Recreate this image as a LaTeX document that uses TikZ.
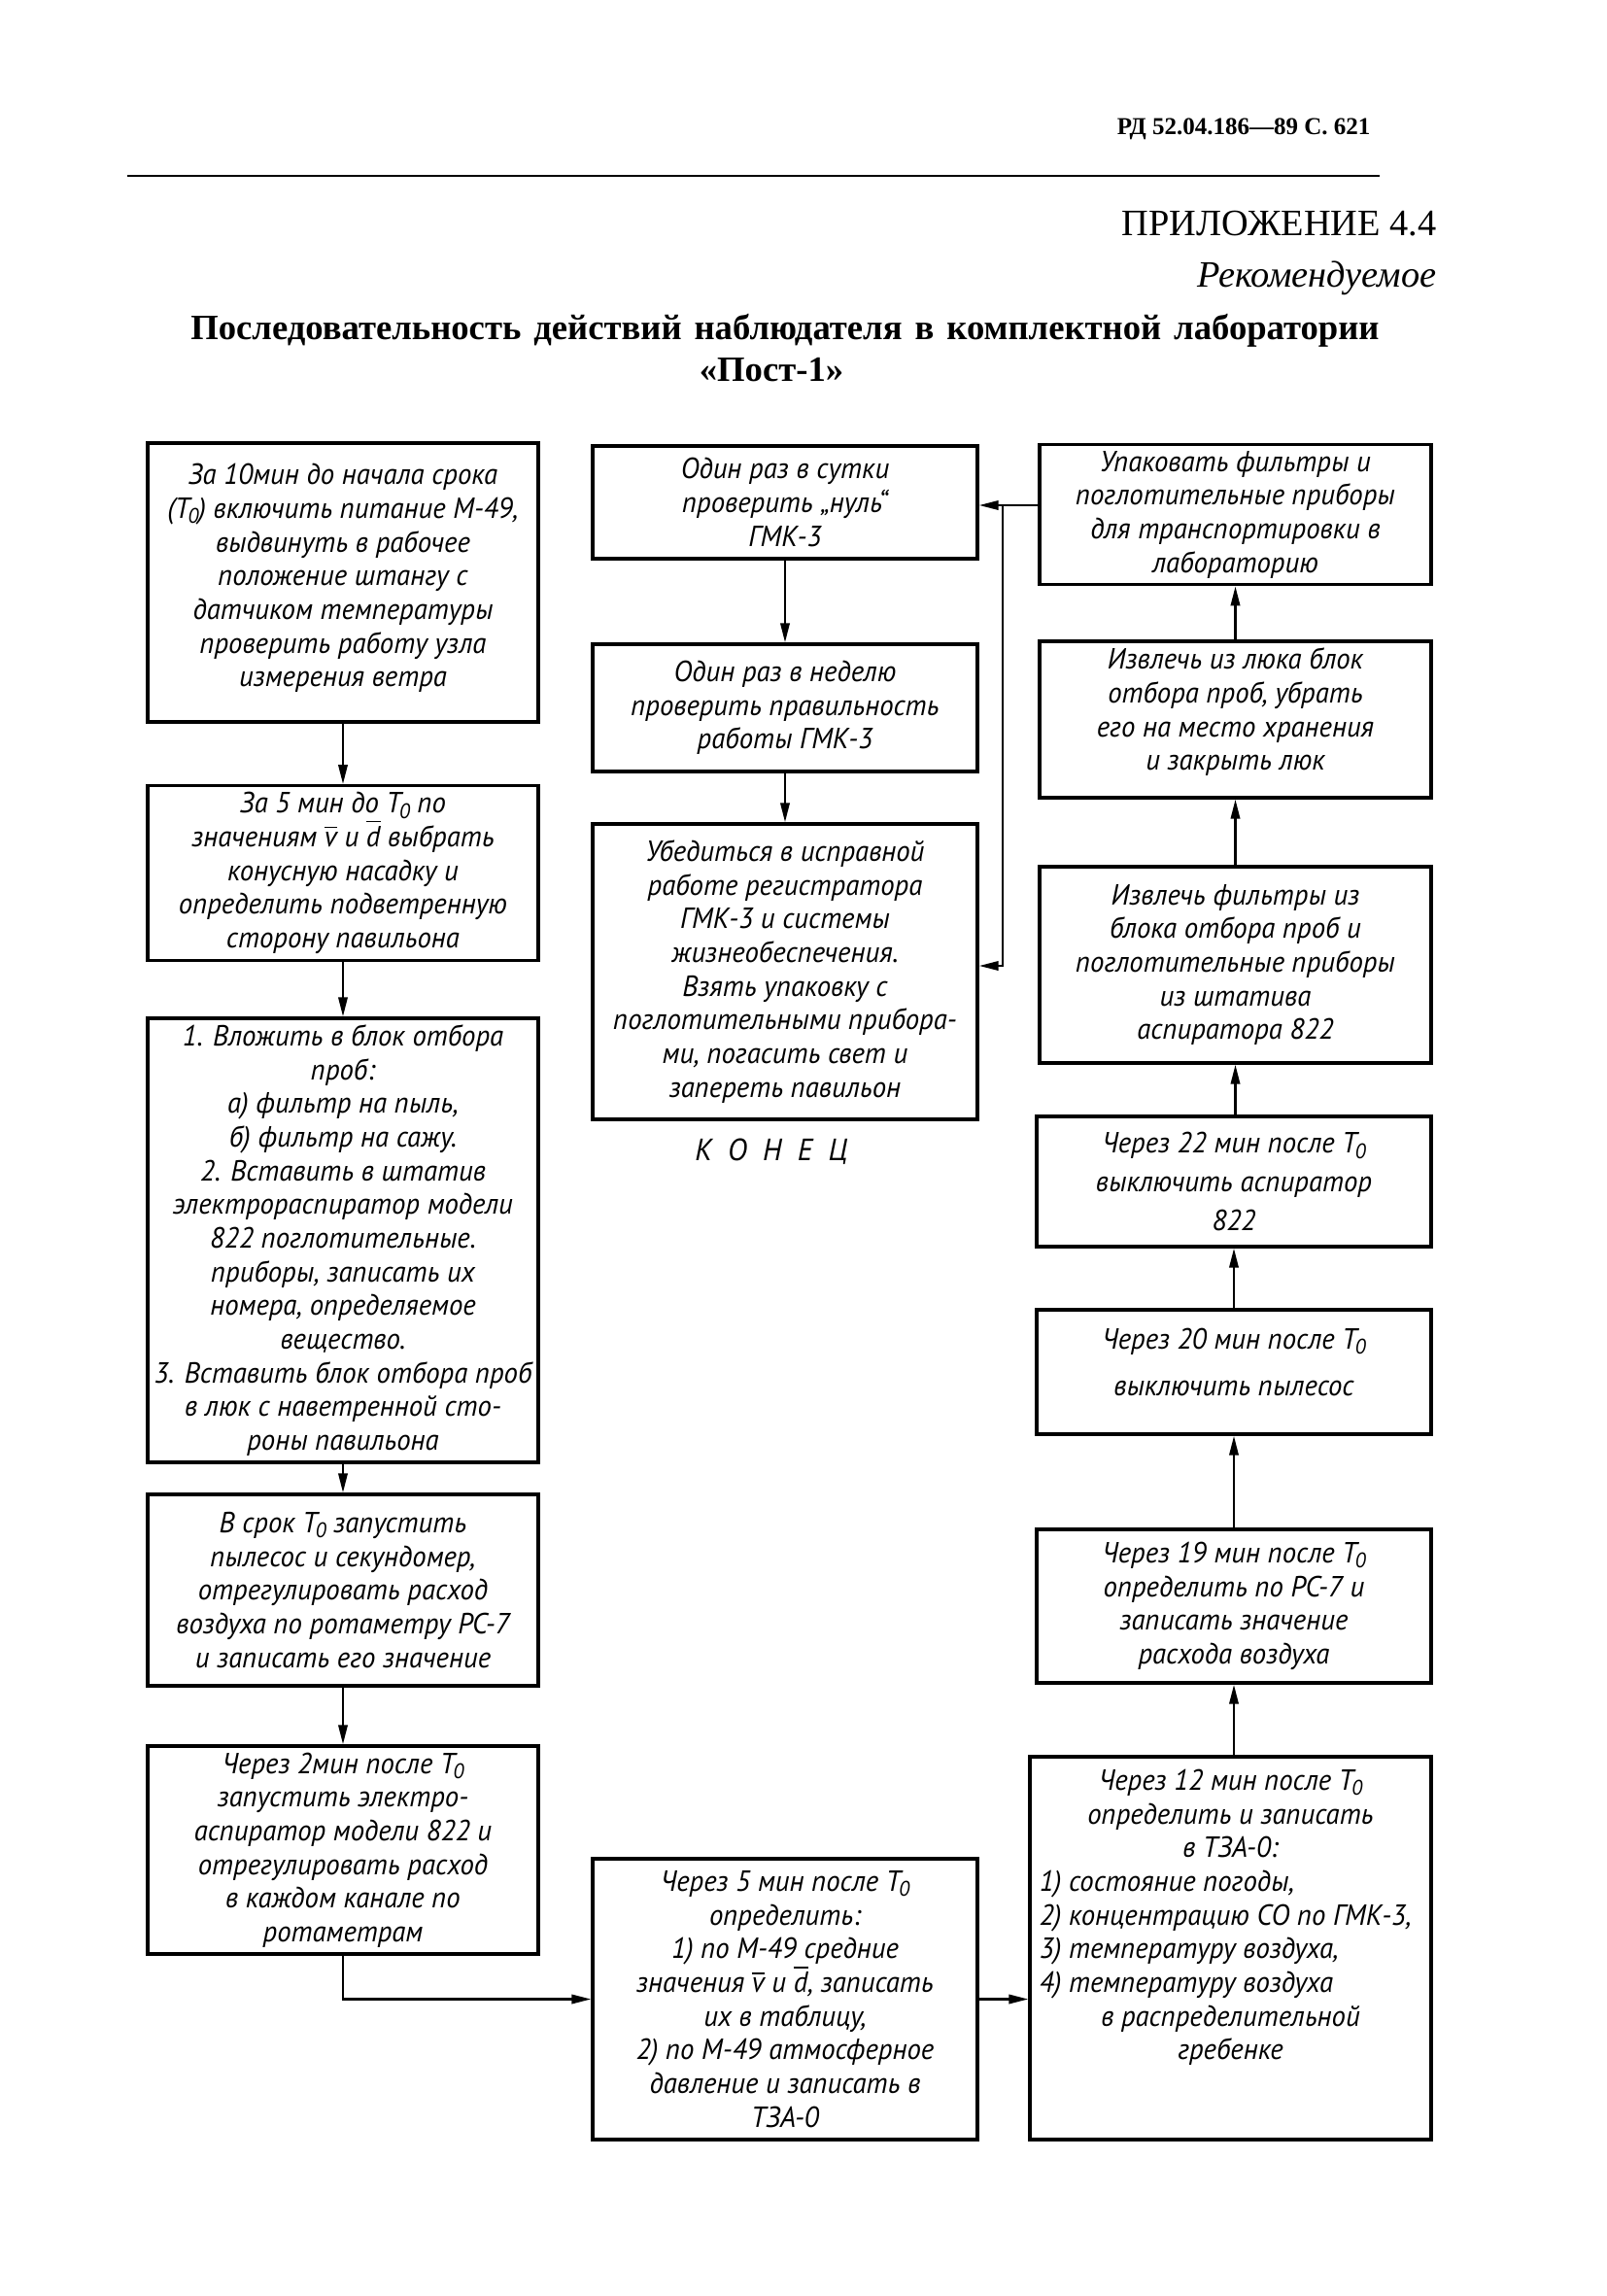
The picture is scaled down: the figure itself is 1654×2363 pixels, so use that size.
\documentclass[tikz,border=0pt]{standalone}
\usepackage{fontspec}
\setmainfont{Liberation Serif}
\newfontfamily\hand{PT Sans}[FakeStretch=0.96]
\usetikzlibrary{arrows.meta}
\newcommand\Tnull{T\kern-0.06em\raisebox{-0.35ex}{\fontsize{6.5}{7}\selectfont 0}}
\newcommand\ovl[1]{\ensuremath{\overline{\hbox{#1}}}}
\newcommand\lft[1]{\makebox[118pt][l]{#1}}
\tikzset{
  box/.style={draw, line width=1pt, align=center, inner xsep=1pt, inner ysep=2pt,
    font=\hand\itshape\fontsize{9}{10.4}\selectfont},
  wh/.style 2 args={minimum width=#1*0.3pt, minimum height=#2*0.3pt},
  arr/.style={line width=0.75pt, -{Triangle[length=6pt,width=2.8pt]}},
  ln/.style={line width=0.75pt},
  hdr/.style={inner sep=0pt},
}
\begin{document}
\begin{tikzpicture}[x=0.3pt,y=-0.3pt]
\fill[white] (0,0) rectangle (1654,2363);
\useasboundingbox (0,0) rectangle (1654,2363);

% header
\node[hdr, anchor=east, font=\bfseries\fontsize{7.5}{9}\selectfont] (pg) at (1411,133) {РД 52.04.186—89 С. 621};
\draw[line width=0.8pt] (131,181) -- (1420,181);
\node[hdr, anchor=east, font=\fontsize{11.5}{13}\selectfont] (app) at (1479,230) {ПРИЛОЖЕНИЕ 4.4};
\node[hdr, anchor=east, font=\itshape\fontsize{11.5}{13}\selectfont] (rec) at (1479,286) {Рекомендуемое};
\node[hdr, font=\bfseries\fontsize{11}{13}\selectfont] (t1) at (808,340)
  {\makebox[367pt][s]{Последовательность действий наблюдателя в комплектной лаборатории}};
\node[hdr, font=\bfseries\fontsize{11}{13}\selectfont] (t2) at (794,381) {«Пост-1»};

% left column
\node[box, wh={402}{287}] (l1) at (353,599.5)
  {За 10мин до начала срока\\(\Tnull) включить питание М-49,\\выдвинуть в рабочее\\положение штангу с\\датчиком температуры\\проверить работу узла\\измерения ветра\\[-6pt]\mbox{}};
\node[box, wh={402}{179}] (l2) at (353,898.5)
  {За 5 мин до \Tnull\ по\\значениям \ovl{v} и \ovl{d} выбрать\\конусную насадку и\\определить подветренную\\сторону павильона};
\node[box, wh={402}{445}] (l3) at (353,1276.5)
  {1. Вложить в блок отбора\\проб:\\а) фильтр на пыль,\\б) фильтр на сажу.\\2. Вставить в штатив\\электрораспиратор модели\\822 поглотительные.\\приборы, записать их\\номера, определяемое\\вещество.\\3. Вставить блок отбора проб\\в люк с наветренной сто-\\роны павильона};
\node[box, wh={402}{197}] (l4) at (353,1636.5)
  {В срок \Tnull\ запустить\\пылесос и секундомер,\\отрегулировать расход\\воздуха по ротаметру РС-7\\и записать его значение};
\node[box, wh={402}{198}] (l5) at (353,1904)
  {Через 2мин после \Tnull\\запустить электро-\\аспиратор модели 822 и\\отрегулировать расход\\в каждом канале по\\ротаметрам};

% middle column
\node[box, wh={396}{116}] (m1) at (808,517)
  {Один раз в сутки\\проверить „нуль“\\ГМК-3};
\node[box, wh={396}{131}] (m2) at (808,728.5)
  {Один раз в неделю\\проверить правильность\\работы ГМК-3};
\node[box, wh={396}{304}] (m3) at (808,1000)
  {Убедиться в исправной\\работе регистратора\\ГМК-3 и системы\\жизнеобеспечения.\\Взять упаковку с\\поглотительными прибора-\\ми, погасить свет и\\запереть павильон};
\node[hdr, font=\hand\itshape\fontsize{9.5}{12}\selectfont] (end) at (794,1185) {К~~О~~Н~~Е~~Ц};
\node[box, wh={396}{289}] (m4) at (808,2057.5)
  {Через 5 мин после \Tnull\\определить:\\1) по М-49 средние\\значения \ovl{v} и \ovl{d}, записать\\их в таблицу,\\2) по М-49 атмосферное\\давление и записать в\\ТЗА-0};

% right column
\node[box, wh={403}{141}] (r1) at (1271.5,529.5)
  {Упаковать фильтры и\\поглотительные приборы\\для транспортировки в\\лабораторию};
\node[box, wh={403}{161}] (r2) at (1271.5,740.5)
  {Извлечь из люка блок\\отбора проб, убрать\\его на место хранения\\и закрыть люк\\[-4pt]\mbox{}};
\node[box, wh={403}{202}] (r3) at (1271.5,993)
  {Извлечь фильтры из\\блока отбора проб и\\поглотительные приборы\\из штатива\\аспиратора 822};
\node[box, wh={406}{134}] (r4) at (1270,1216)
  {Через 22 мин после \Tnull\\[1.5pt]выключить аспиратор\\[1.5pt]822};
\node[box, wh={406}{128}] (r5) at (1270,1412)
  {Через 20 мин после \Tnull\\[4pt]выключить пылесос\\[-4pt]\mbox{}};
\node[box, wh={406}{158}] (r6) at (1270,1653)
  {Через 19 мин после \Tnull\\определить по РС-7 и\\записать значение\\расхода воздуха};
\node[box, wh={413}{394}] (r7) at (1266.5,2005)
  {Через 12 мин после \Tnull\\определить и записать\\в ТЗА-0:\\\lft{1) состояние погоды,}\\\lft{2) концентрацию СО по ГМК-3,}\\\lft{3) температуру воздуха,}\\\lft{4) температуру воздуха}\\в распределительной\\гребенке\\ \mbox{}\\ \mbox{}};

% connectors: left column
\draw[arr] (l1.south) -- (l2.north);
\draw[arr] (l2.south) -- (l3.north);
\draw[arr] (l3.south) -- (l4.north);
\draw[arr] (l4.south) -- (l5.north);
\draw[arr] (l5.south) |- (m4.west);
\draw[arr] (m4.east) -- (r7.west |- m4.east);

% middle column
\draw[arr] (m1.south) -- (m2.north);
\draw[arr] (m2.south) -- (m3.north);

% right column (upwards)
\draw[arr] (r6.south |- r7.north) -- (r6.south);
\draw[arr] (r6.north) -- (r5.south);
\draw[arr] (r5.north) -- (r4.south);
\draw[arr] (r3.south |- r4.north) -- (r3.south);
\draw[arr] (r3.north) -- (r2.south);
\draw[arr] (r2.north) -- (r1.south);

% return to the middle column
\coordinate (j1) at (1032,520);
\coordinate (j2) at (1032,994);
\draw[arr] (r1.west |- j1) -- (m1.east |- j1);
\draw[arr] (j1) -- (j2) -- (m3.east |- j2);
\end{tikzpicture}
\end{document}
